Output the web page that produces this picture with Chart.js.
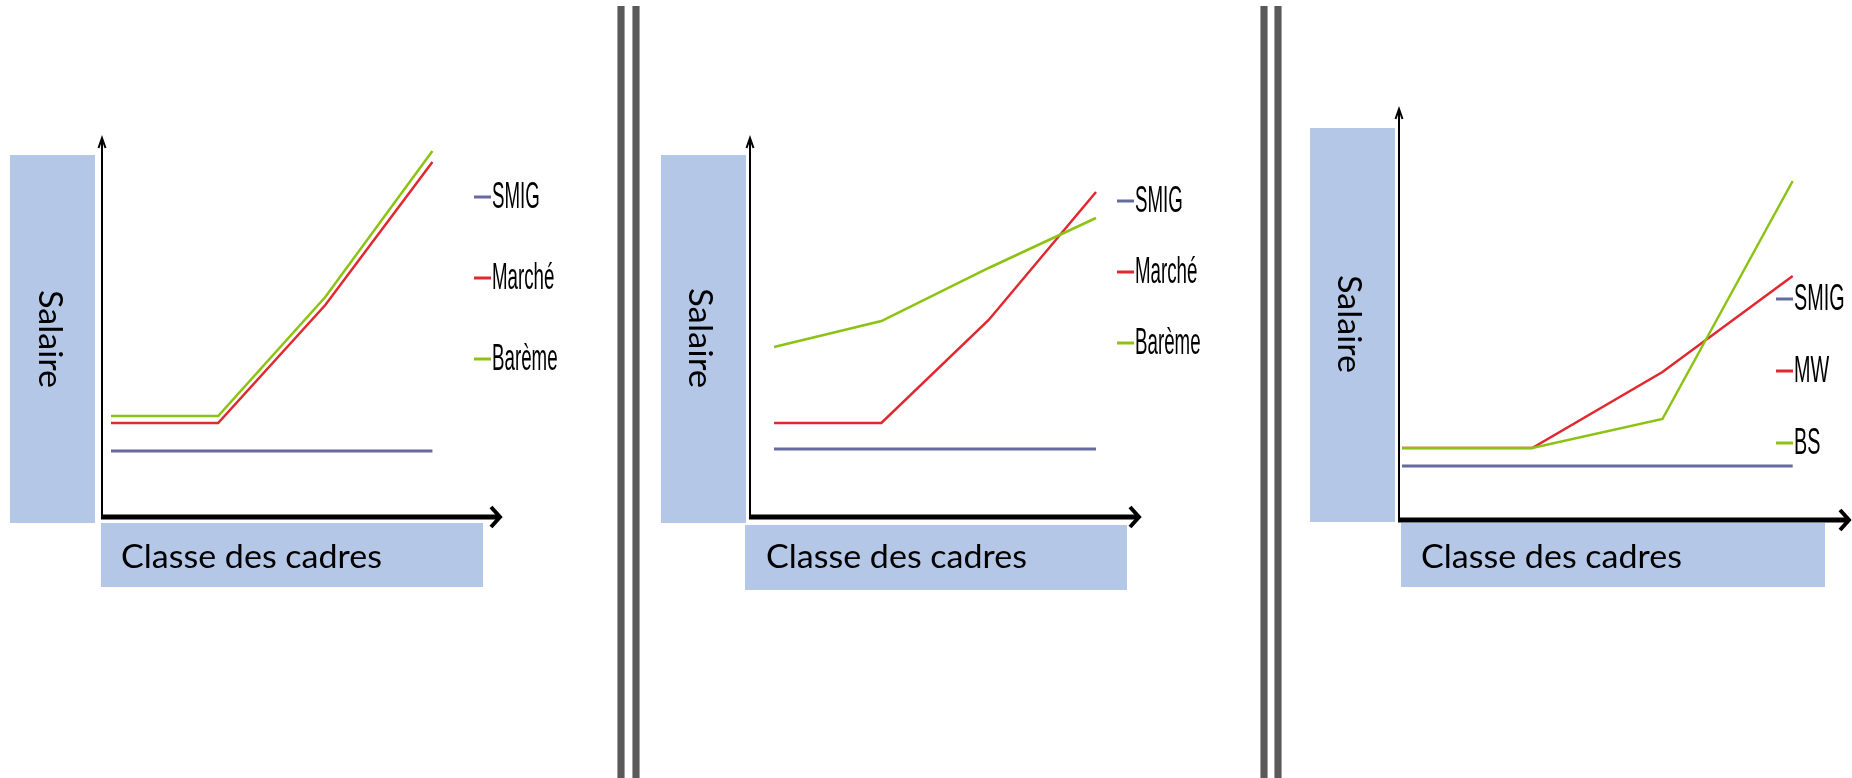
<!DOCTYPE html>
<html>
<head>
<meta charset="utf-8">
<script src="https://cdn.jsdelivr.net/npm/chart.js@4.4.1/dist/chart.umd.min.js"></script>
<style>
  html, body { margin: 0; padding: 0; background: #fff; width: 1852px; height: 778px; overflow: hidden; }
  .sep { position: absolute; top: 6px; height: 772px; width: 8px; background: #5a5a5a;
         border-left: 1px solid #a0a0a0; border-right: 1px solid #a0a0a0; box-sizing: border-box; }
  canvas { position: absolute; top: 0; }
</style>
</head>
<body>
<div class="sep" style="left:617px"></div>
<div class="sep" style="left:632px"></div>
<div class="sep" style="left:1260px"></div>
<div class="sep" style="left:1274px"></div>
<canvas id="g1" width="612" height="778" style="left:0px"></canvas>
<canvas id="g2" width="613" height="778" style="left:645px"></canvas>
<canvas id="g3" width="564" height="778" style="left:1288px"></canvas>
<script>
// classes des cadres (pas d'étiquettes affichées sur l'axe)
const categories = ["Classe 1", "Classe 2", "Classe 3", "Classe 4"];

// graphique 1
const smig1 = [6.6, 6.6, 6.6, 6.6];
const marche1 = [9.4, 9.4, 21.2, 35.5];
const bareme1 = [10.1, 10.1, 22.0, 36.6];

// graphique 2
const smig2 = [6.8, 6.8, 6.8, 6.8];
const marche2 = [9.4, 9.4, 19.7, 32.5];
const bareme2 = [17.0, 19.6, 24.9, 29.9];

// graphique 3
const smig3 = [5.4, 5.4, 5.4, 5.4];
const mw3 = [7.2, 7.2, 14.8, 24.4];
const bs3 = [7.2, 7.2, 10.1, 33.9];

const labelsFr = ["SMIG", "Marché", "Barème"];
const labelsEn = ["SMIG", "MW", "BS"];

const titreY = "Salaire";
const titreX = "Classe des cadres";

const couleurs = ["#666a9e", "#e1282f", "#8cc312"];
const bleuBoite = "#b4c7e7";

// mise en page de chaque panneau (coordonnées de la page)
const panneaux = [
  { id: "g1", left: 0, w: 612, axeX: 102, haut: 138, bas: 517, fin: 501, xMin: -0.084, xMax: 3.64, yMax: 37.9,
    boiteY: [10, 155, 85, 368], boiteX: [101, 523, 382, 64], salaire: [39, 290, 98], classe: [121, 568, 261],
    leg: [474, 197, 81], legScale: 0.52, noms: labelsFr, series: [smig1, marche1, bareme1] },
  { id: "g2", left: 645, w: 613, axeX: 750, haut: 138, bas: 517, fin: 1140, xMin: -0.224, xMax: 3.41, yMax: 37.9,
    boiteY: [661, 155, 85, 368], boiteX: [745, 525, 382, 65], salaire: [689, 288, 100], classe: [766, 568, 261],
    leg: [1117, 201, 71], legScale: 0.52, noms: labelsFr, series: [smig2, marche2, bareme2] },
  { id: "g3", left: 1288, w: 564, axeX: 1399, haut: 109, bas: 520, fin: 1850, xMin: -0.023, xMax: 3.44, yMax: 41.1,
    boiteY: [1310, 128, 85, 394], boiteX: [1401, 523, 424, 64], salaire: [1338, 275, 98], classe: [1421, 568, 261],
    leg: [1776, 299, 72], legScale: 0.55, noms: labelsEn, series: [smig3, mw3, bs3] }
];

const decor = {
  id: "decor",
  beforeDatasetsDraw(chart) {
    const p = chart.options.plugins.decor.p;
    const ctx = chart.ctx;
    const a = chart.chartArea;
    ctx.save();
    // boites bleues
    ctx.fillStyle = bleuBoite;
    ctx.fillRect(p.boiteY[0] - p.left, p.boiteY[1], p.boiteY[2], p.boiteY[3]);
    ctx.fillRect(p.boiteX[0] - p.left, p.boiteX[1], p.boiteX[2], p.boiteX[3]);

    // titre vertical
    ctx.fillStyle = "#000";
    ctx.font = "32px Lato";
    ctx.textBaseline = "alphabetic";
    let m = ctx.measureText(titreY).width;
    ctx.save();
    ctx.translate(p.salaire[0] - p.left, p.salaire[1]);
    ctx.rotate(Math.PI / 2);
    ctx.scale(p.salaire[2] / m, 1);
    ctx.fillText(titreY, 0, 0);
    ctx.restore();

    // titre horizontal
    m = ctx.measureText(titreX).width;
    ctx.save();
    ctx.translate(p.classe[0] - p.left, p.classe[1]);
    ctx.scale(p.classe[2] / m, 1);
    ctx.fillText(titreX, 0, 0);
    ctx.restore();

    // axes avec flèches
    ctx.strokeStyle = "#000";
    ctx.lineCap = "butt";
    ctx.lineWidth = 2;
    ctx.beginPath();
    ctx.moveTo(a.left, a.bottom);
    ctx.lineTo(a.left, a.top + 1);
    ctx.stroke();
    ctx.beginPath();
    ctx.moveTo(a.left - 3.5, a.top + 10);
    ctx.lineTo(a.left, a.top);
    ctx.lineTo(a.left + 3.5, a.top + 10);
    ctx.stroke();

    ctx.lineWidth = 5;
    ctx.beginPath();
    ctx.moveTo(a.left - 1, a.bottom);
    ctx.lineTo(a.right - 3, a.bottom);
    ctx.stroke();
    ctx.lineWidth = 4;
    ctx.lineJoin = "miter";
    ctx.beginPath();
    ctx.moveTo(a.right - 10, a.bottom - 10);
    ctx.lineTo(a.right - 1, a.bottom);
    ctx.lineTo(a.right - 10, a.bottom + 10);
    ctx.stroke();
    ctx.restore();
  },
  afterDraw(chart) {
    const p = chart.options.plugins.decor.p;
    const ctx = chart.ctx;
    ctx.save();
    ctx.font = "36px 'Liberation Sans'";
    ctx.textBaseline = "middle";
    chart.data.datasets.forEach((ds, i) => {
      const x = p.leg[0] - p.left;
      const y = p.leg[1] + i * p.leg[2];
      ctx.strokeStyle = ds.borderColor;
      ctx.lineWidth = 3;
      ctx.beginPath();
      ctx.moveTo(x, y);
      ctx.lineTo(x + 17, y);
      ctx.stroke();
      ctx.fillStyle = "#000";
      ctx.save();
      ctx.translate(x + 18, y + 1);
      ctx.scale(p.legScale, 1);
      ctx.fillText(ds.label, 0, 0);
      ctx.restore();
    });
    ctx.restore();
  }
};

panneaux.forEach(p => {
  const ctx = document.getElementById(p.id).getContext("2d");
  new Chart(ctx, {
    type: "line",
    data: {
      labels: categories,
      datasets: p.series.map((s, i) => ({
        label: p.noms[i],
        data: s.map((v, k) => ({ x: k, y: v })),
        borderColor: couleurs[i],
        borderWidth: i === 0 ? 3 : 2.5,
        pointRadius: 0,
        tension: 0,
        fill: false,
        order: 2 - i
      }))
    },
    options: {
      responsive: false,
      animation: false,
      layout: { padding: { left: p.axeX - p.left, top: p.haut, bottom: 778 - p.bas, right: p.left + p.w - p.fin } },
      scales: {
        x: { type: "linear", min: p.xMin, max: p.xMax, display: false },
        y: { min: 0, max: p.yMax, display: false }
      },
      plugins: {
        legend: { display: false },
        tooltip: { enabled: false },
        decor: { p: p }
      }
    },
    plugins: [decor]
  });
});
</script>
</body>
</html>
